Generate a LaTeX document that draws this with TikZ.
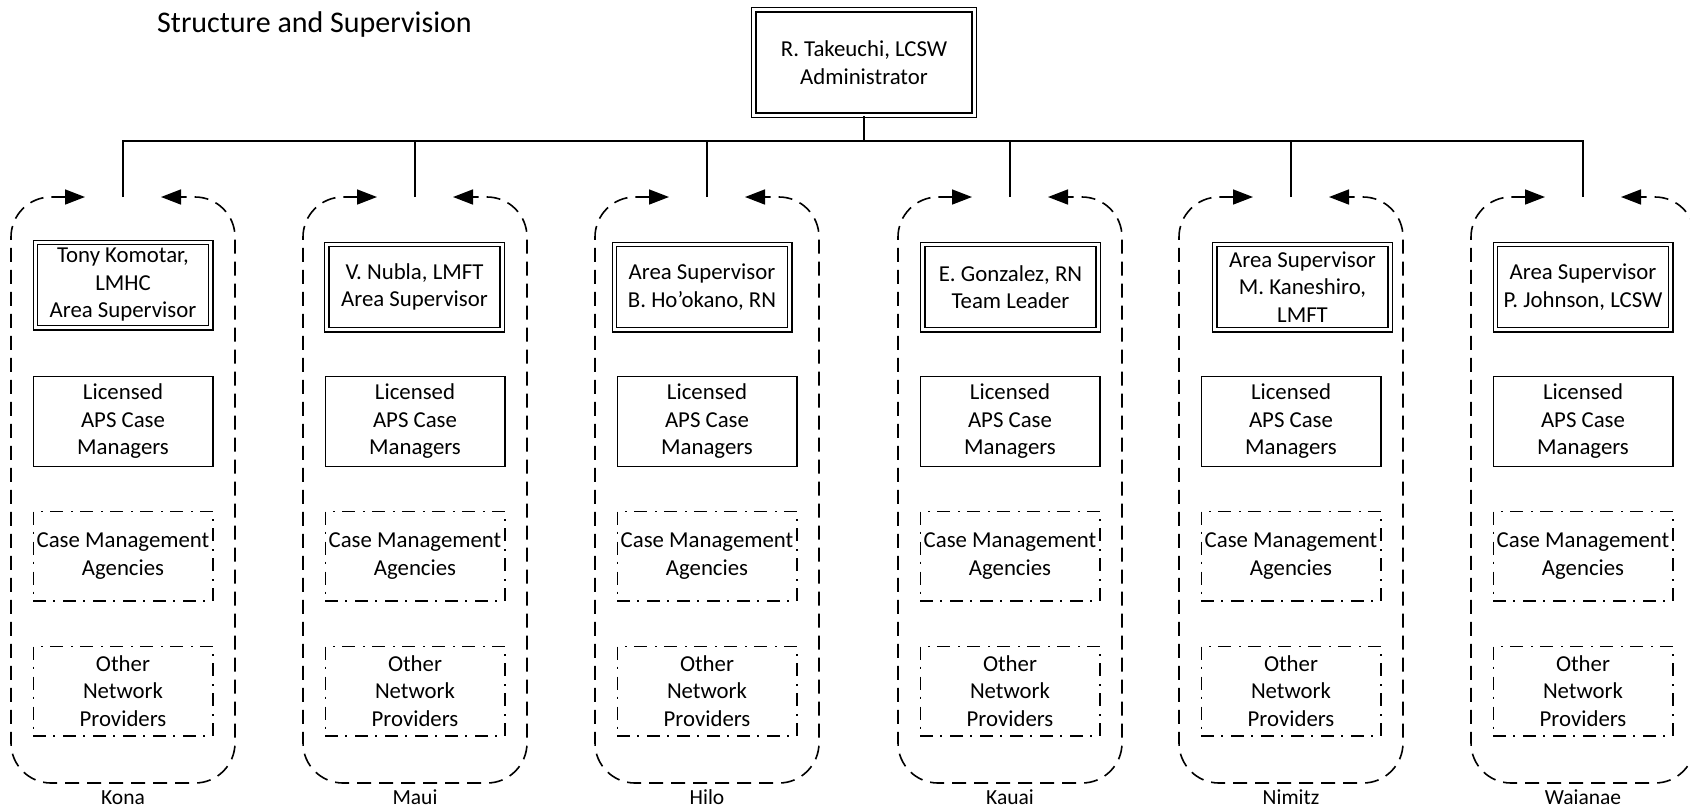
\documentclass[tikz,border=0pt]{standalone}
\usepackage{fontspec}
\setmainfont{Carlito}
\usetikzlibrary{arrows.meta}
\begin{document}
\begin{tikzpicture}[x=1pt,y=-1pt,
  every node/.style={font=\fontsize{22.8}{27.5}\selectfont, inner sep=1pt, align=center},
  dblbox/.style={draw, line width=1.2pt, double, double distance=3.2pt,
                 minimum width=175.4pt, minimum height=85.4pt},
  staffbox/.style={draw, line width=1.2pt, minimum width=179.8pt, minimum height=89.8pt},
  partnerbox/.style={draw, line width=1.2pt, dash pattern=on 13pt off 7pt on 2pt off 8pt,
                 minimum width=179.8pt, minimum height=89.8pt},
  conn/.style={line width=1.5pt},
  arealoop/.style={line width=1.6pt, dash pattern=on 14pt off 8pt,
                 {Triangle[length=20pt,width=15pt]}-{Triangle[length=20pt,width=15pt]}},
  arealabel/.style={anchor=base, font=\fontsize{21.5}{25}\selectfont}
]
\clip (0,0) rectangle (1690,807);

% title
\node[anchor=base west, font=\fontsize{30}{36}\selectfont, inner sep=0pt] (title) at (157,32) {Structure and Supervision};

% administrator
\node[dblbox, minimum width=220.4pt, minimum height=105.4pt] (admin) at (864,62.5)
  {R. Takeuchi, LCSW\\Administrator};

% drop points at the top of each area
\coordinate (t1) at (123,197);
\coordinate (t2) at (415,197);
\coordinate (t3) at (707,197);
\coordinate (t4) at (1010,197);
\coordinate (t5) at (1291,197);
\coordinate (t6) at (1583,197);
\coordinate (bus) at (864,141);

% reporting lines
\draw[line width=2.5pt] (admin.south) -- (bus);
\draw[conn] (t1) |- (bus) -| (t6);
\foreach \t in {t2,t3,t4,t5} \draw[conn] (\t) -- (\t |- bus);

% dashed area loops, corners drawn as quarter curves of radius 40
\foreach \c in {123,415,707,1010,1291,1583}
  \draw[arealoop] (\c-38,197) -- (\c-72,197)
      .. controls (\c-94,197) and (\c-112,215) .. (\c-112,237) -- (\c-112,743)
      .. controls (\c-112,765) and (\c-94,783) .. (\c-72,783) -- (\c+72,783)
      .. controls (\c+94,783) and (\c+112,765) .. (\c+112,743) -- (\c+112,237)
      .. controls (\c+112,215) and (\c+94,197) .. (\c+72,197) -- (\c+38,197);

% supervisors
\node[dblbox] (s1) at (123,285) {Tony Komotar,\\LMHC\\Area Supervisor};
\node[dblbox] (s2) at (414.5,287) {V. Nubla, LMFT\\Area Supervisor};
\node[dblbox] (s3) at (702,287) {Area Supervisor\\B. Ho’okano, RN};
\node[dblbox] (s4) at (1010.5,287) {E. Gonzalez, RN\\Team Leader};
\node[dblbox] (s5) at (1302.5,287) {Area Supervisor\\M. Kaneshiro,\\LMFT};
\node[dblbox] (s6) at (1583,287) {Area Supervisor\\P. Johnson, LCSW};

% staff and partner boxes, one column per area
\foreach \c/\n/\lab in {123/1/Kona,415/2/Maui,707/3/Hilo,1010/4/Kauai,1291/5/Nimitz,1583/6/Waianae}{
  \node[staffbox] (lic\n) at (\c,421.5) {Licensed\\APS Case\\Managers};
  \node[partnerbox] (cma\n) at (\c,556) {Case Management\\Agencies};
  \node[partnerbox] (onp\n) at (\c,691) {Other\\Network\\Providers};
  \node[arealabel] (lab\n) at (\c,804) {\lab};
}
\end{tikzpicture}
\end{document}
